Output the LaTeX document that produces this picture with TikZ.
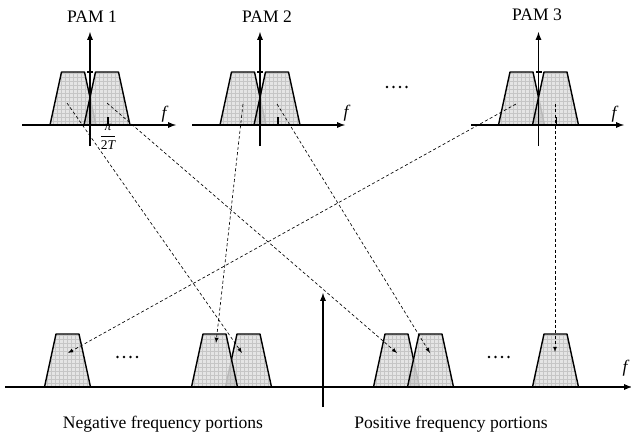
\documentclass[tikz,border=0pt]{standalone}
\usepackage{amsmath}
\usepackage{fontspec}
\setmainfont{Liberation Serif}
\usepackage{tikz}

\tikzset{
  axis/.style={line width=1.3pt, -latex},
  trapline/.style={line width=1.2pt, line join=round},
  link/.style={line width=0.55pt, dash pattern=on 2.6pt off 2pt, -latex},
  lbl/.style={font=\fontsize{15}{17}\selectfont},
  trapz/.style 2 args={insert path={(#1-23,#2) -- (#1-11.5,#2-53) -- (#1+11.5,#2-53) -- (#1+23,#2) -- cycle}},
}

% filled trapezoid with grid, #1 centre x, #2 base y
\newcommand{\trapfill}[2]{%
  \begin{scope}
    \clip[trapz={#1}{#2}];
    \fill[gray!20] (#1-25,#2+1) rectangle (#1+25,#2-55);
    \foreach \g in {-24,-20,...,24} \draw[gray!45, line width=0.3pt] (#1+\g,#2+1) -- ++(0,-56);
    \foreach \h in {0,4,...,52} \draw[gray!45, line width=0.3pt] (#1-25,#2-\h) -- ++(50,0);
  \end{scope}}

\newcommand{\trapsingle}[2]{%
  \trapfill{#1}{#2}
  \draw[trapline, trapz={#1}{#2}];}

% overlapping pair, #1 back centre, #2 front centre, #3 base y
\newcommand{\trappair}[3]{%
  \trapsingle{#1}{#3}
  \trapfill{#2}{#3}
  \begin{scope}
    \clip[trapz={#1}{#3}];
    \fill[gray!70, opacity=0.35, trapz={#2}{#3}];
  \end{scope}
  \begin{scope}
    \clip[trapz={#2}{#3}];
    \draw[trapline, gray!55, trapz={#1}{#3}];
  \end{scope}
  \draw[trapline, trapz={#2}{#3}];}

\begin{document}
\begin{tikzpicture}[x=0.03cm, y=-0.03cm]
    \useasboundingbox (0,0) rectangle (631,441);

    % top spectra
    \trappair{73}{107}{125}
    \trappair{243}{277}{125}
    \trappair{521.5}{555.5}{125}

    % bottom portions
    \trapsingle{67.5}{387}
    \trappair{248.5}{214.5}{387}
    \trappair{396.5}{430.5}{387}
    \trapsingle{555.5}{387}

    % axes
    \draw[axis] (22,125) -- (176,125);
    \draw[axis] (90,146) -- (90,32);
    \draw[axis] (192,125) -- (345,125);
    \draw[axis] (260,146) -- (260,32);
    \draw[axis] (471,125) -- (624,125);
    \draw[axis] (538.5,146) -- (538.5,32);
    \draw[axis] (5,387) -- (632,387);
    \draw[axis] (323,407) -- (323,293);

    % ticks
    \foreach \ax in {90,260,538.5} {
      \draw[line width=1pt] (\ax-3,72) -- (\ax+3,72);
      \draw[line width=1.2pt] (\ax+18,125) -- (\ax+18,117);
    }

    % dots
    \foreach \dx/\dy in {387/87, 117.5/357, 489/357}
      \foreach \k in {0,1,2,3}
        \fill (\dx+\k*6.5,\dy) circle (1.4);

    % start and end points of the links
    \coordinate (s1l) at (67,103);
    \coordinate (s1r) at (107,103);
    \coordinate (s2l) at (243,104);
    \coordinate (s2r) at (277,104);
    \coordinate (s3l) at (516,104);
    \coordinate (s3r) at (555,104);
    \coordinate (tA) at (68,353);
    \coordinate (tB) at (216,343);
    \coordinate (tC) at (242,353);
    \coordinate (tD) at (397,353);
    \coordinate (tE) at (430,353);
    \coordinate (tF) at (555,352);

    \draw[link] (s1l) -- (tC);
    \draw[link] (s1r) -- (tD);
    \draw[link] (s2l) -- (tB);
    \draw[link] (s2r) -- (tE);
    \draw[link] (s3l) -- (tA);
    \draw[link] (s3r) -- (tF);

%labels
    \node[lbl] (pam1) at (92,17) {PAM 1};
    \node[lbl] (pam2) at (267,17) {PAM 2};
    \node[lbl] (pam3) at (537,15) {PAM 3};
    \node[lbl] (f1) at (165,114) {\textit{f}};
    \node[lbl] (f2) at (347,113) {\textit{f}};
    \node[lbl] (f3) at (615,114) {\textit{f}};
    \node[lbl] (f4) at (626,368) {\textit{f}};
    \node[font=\fontsize{11.5}{13}\selectfont] (piT) at (108,137)
      {$\dfrac{\text{\itshape π}}{\text{2\itshape T}}$};
    \node[lbl] (neg) at (163,424) {Negative frequency portions};
    \node[lbl] (pos) at (451,424) {Positive frequency portions};

\end{tikzpicture}
\end{document}
